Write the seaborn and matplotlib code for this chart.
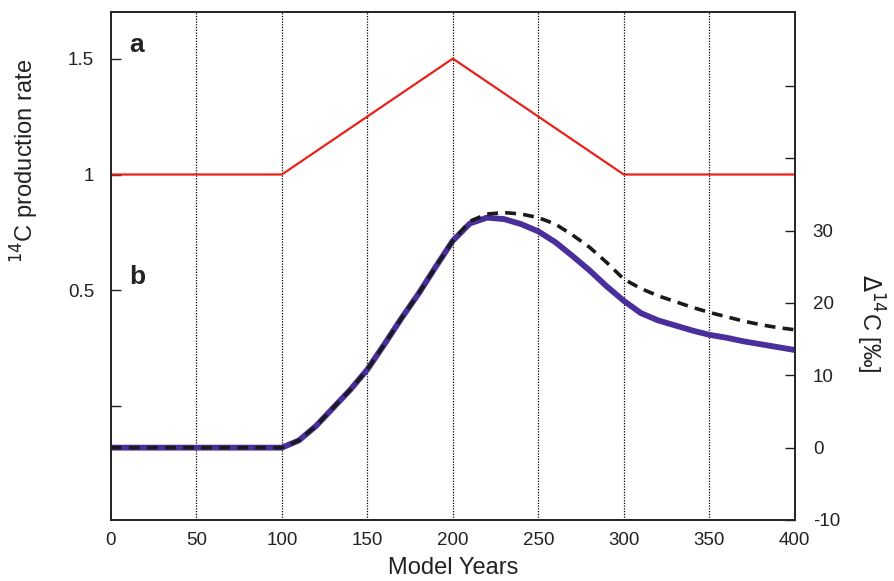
import numpy as np
import pandas as pd
import matplotlib
matplotlib.use("Agg")
import matplotlib.pyplot as plt
import seaborn as sns

sns.set_theme(style="white")
plt.rcParams["font.family"] = ["Liberation Sans", "DejaVu Sans"]

# (a) 14C production rate forcing
prod_years = [0, 100, 200, 300, 400]
prod_rate = [1.0, 1.0, 1.5, 1.0, 1.0]

# (b) atmospheric Delta-14C response (permil)
years = [0, 10, 20, 30, 40, 50, 60, 70, 80, 90, 100, 110, 120, 130, 140, 150,
         160, 170, 180, 190, 200, 210, 220, 230, 240, 250, 260, 270, 280, 290,
         300, 310, 320, 330, 340, 350, 360, 370, 380, 390, 400]
d14c_model = [0, 0, 0, 0, 0, 0, 0, 0, 0, 0, 0, 1.0, 3.0, 5.5, 8.0, 10.8,
              14.3, 17.9, 21.3, 25.0, 28.6, 31.0, 31.8, 31.6, 30.9, 29.9, 28.4,
              26.5, 24.5, 22.3, 20.3, 18.6, 17.6, 16.9, 16.2, 15.6, 15.2, 14.7,
              14.3, 13.9, 13.5]
d14c_box = [0, 0, 0, 0, 0, 0, 0, 0, 0, 0, 0, 1.0, 3.0, 5.5, 8.0, 10.8,
            14.3, 17.9, 21.3, 25.0, 28.6, 31.3, 32.3, 32.5, 32.3, 31.8, 30.9,
            29.4, 27.7, 25.6, 23.3, 22.0, 21.0, 20.2, 19.4, 18.7, 18.1, 17.5,
            17.0, 16.6, 16.3]

grid_years = [50, 100, 150, 200, 250, 300, 350]
x_ticks = [0, 50, 100, 150, 200, 250, 300, 350, 400]
left_ticks = [0, 0.5, 1, 1.5]
left_labels = ["", "0.5", "1", "1.5"]
right_ticks = [-10, 0, 10, 20, 30, 40, 50]
right_labels = ["-10", "0", "10", "20", "30", "", ""]

prod_df = pd.DataFrame({"year": prod_years, "rate": prod_rate})
resp_df = pd.DataFrame({"year": years, "model": d14c_model, "box": d14c_box})

fig = plt.figure(figsize=(8.94, 5.81), dpi=100)
ax = fig.add_axes([0.124, 0.105, 0.765, 0.874])
ax2 = ax.twinx()

for g in grid_years:
    ax.axvline(g, color="black", lw=0.9, ls=(0, (1, 1.2)), zorder=0)

sns.lineplot(data=prod_df, x="year", y="rate", ax=ax, color="#e8221b", lw=1.6)
sns.lineplot(data=resp_df, x="year", y="model", ax=ax2, color="#4a2f9c", lw=4.2)
sns.lineplot(data=resp_df, x="year", y="box", ax=ax2, color="#1a1a1a", lw=2.6,
             ls=(0, (3, 2)))

ax.set_xlim(0, 400)
ax.set_ylim(-0.49, 1.7)
ax2.set_ylim(-10, 60.2)

ax.set_xticks(x_ticks)
ax.set_xticklabels([str(t) for t in x_ticks])
ax.set_yticks(left_ticks)
ax.set_yticklabels(left_labels)
ax2.set_yticks(right_ticks)
ax2.set_yticklabels(right_labels)

ax.tick_params(axis="x", direction="in", length=7, width=1, labelsize=13.5,
               pad=9, colors="#222222")
ax.tick_params(axis="y", direction="in", length=7, width=1, labelsize=13.5,
               pad=12, colors="#222222")
ax2.tick_params(axis="y", direction="in", length=7, width=1, labelsize=13.5,
                pad=13, colors="#222222")

for a in (ax, ax2):
    for s in a.spines.values():
        s.set_color("#222222")
        s.set_linewidth(1.2)

ax.set_xlabel("Model Years", fontsize=17, color="#222222", va="center")
ax.set_ylabel("$^{14}$C production rate", fontsize=17, color="#222222",
              va="center")
ax2.set_ylabel("$\\Delta^{14}$C [‰]", fontsize=17, rotation=270,
               color="#222222", va="center")
ax.xaxis.set_label_coords(0.5, -0.095)
ax.yaxis.set_label_coords(-0.126, 0.707)
ax2.yaxis.set_label_coords(1.11, 0.388)

ax.text(11, 1.56, "a", fontsize=19, fontweight="bold", color="#222222",
        va="center", ha="left")
ax.text(10.5, 0.556, "b", fontsize=19, fontweight="bold", color="#222222",
        va="center", ha="left")

fig.savefig("out.png", dpi=100)
